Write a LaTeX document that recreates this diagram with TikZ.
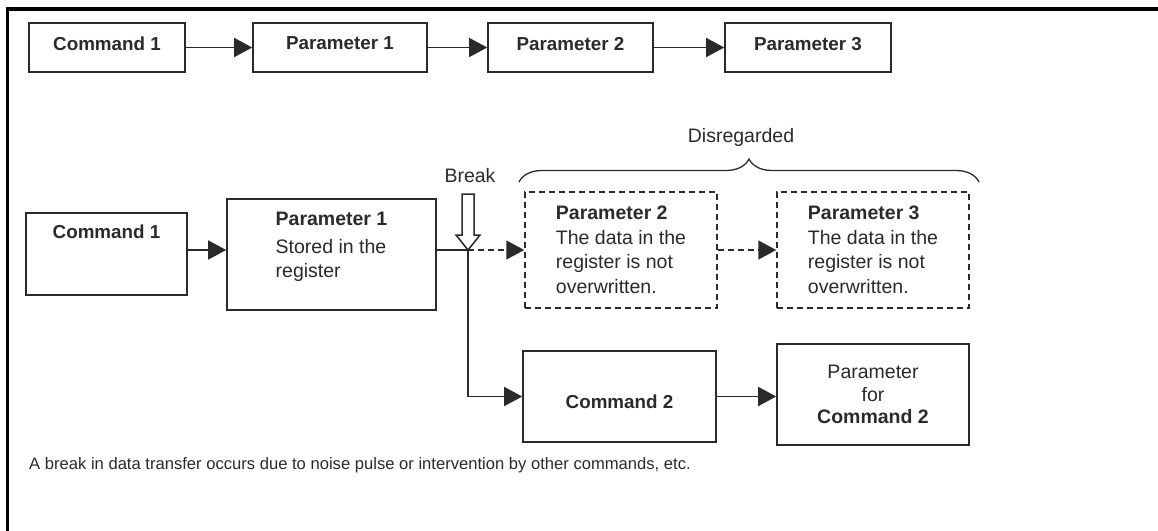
\documentclass[tikz,border=0pt]{standalone}
\usepackage{fontspec}
\setmainfont{Liberation Sans}
\usetikzlibrary{arrows.meta}
\usetikzlibrary{decorations.pathreplacing}
\usetikzlibrary{positioning}
\definecolor{ink}{HTML}{2A2A2A}
\tikzset{cmdbox/.style={draw=ink, line width=1.6pt, inner sep=0pt}}
\tikzset{skipbox/.style={draw=ink, line width=1.5pt, dash pattern=on 6pt off 4pt, inner sep=0pt}}
\tikzset{boxtext/.style={inner sep=0pt, text=ink, font=\fontsize{19.5}{24.5}\selectfont}}
\tikzset{boldtext/.style={boxtext, font=\fontsize{18.8}{24.5}\selectfont\bfseries}}
\tikzset{flow/.style={draw=ink, line width=1.5pt, -{Triangle[length=18pt,width=19pt]}}}
\tikzset{skipflow/.style={flow, dash pattern=on 6pt off 4pt}}
\begin{document}
\begin{tikzpicture}[x=1pt, y=-1pt]
\useasboundingbox (0,0) rectangle (1158,530);

% frame
\draw[line width=3.5pt] (7.5,540) -- (7.5,9) -- (1170,9);

% normal transfer
\node[cmdbox, boldtext, minimum width=156pt, minimum height=49pt, text depth=8pt] (cmd1) at (107,47.5) {Command 1};
\node[cmdbox, boldtext, minimum width=174pt, minimum height=49pt, text depth=8pt] (par1) at (340,47.5) {Parameter 1};
\node[cmdbox, boldtext, minimum width=165pt, minimum height=49pt, text depth=8pt] (par2) at (570.5,47.5) {Parameter 2};
\node[cmdbox, boldtext, minimum width=166pt, minimum height=49pt, text depth=8pt] (par3) at (808,47.5) {Parameter 3};

\draw[flow] (cmd1.east) -- (par1.west);
\draw[flow] (par1.east) -- (par2.west);
\draw[flow] (par2.east) -- (par3.west);

% broken transfer
\coordinate (brk) at (468,250);

\node[cmdbox, minimum width=161pt, minimum height=82pt] (cmd1b) at (106.5,254) {};
\node[boldtext, below=12pt of cmd1b.north] (cmd1txt) {Command 1};

\node[cmdbox, minimum width=209pt, minimum height=111pt] (par1b) at (331.5,254.5) {};
\node[boxtext, align=left, below=14pt of par1b.north] (par1txt) {\textbf{Parameter 1}\\[3pt]Stored in the\\register};

\node[skipbox, boxtext, align=left, minimum width=192pt, minimum height=116pt] (par2b) at (621,250) {\textbf{Parameter 2}\\The data in the\\register is not\\overwritten.};
\node[skipbox, boxtext, align=left, minimum width=192pt, minimum height=116pt] (par3b) at (873,250) {\textbf{Parameter 3}\\The data in the\\register is not\\overwritten.};

\node[cmdbox, boldtext, minimum width=193pt, minimum height=91pt, text height=24pt] (cmd2) at (619.5,396.5) {Command 2};
\node[cmdbox, boxtext, align=center, font=\fontsize{19.5}{22.5}\selectfont, minimum width=192pt, minimum height=101pt] (parc2) at (873,394.5) {Parameter\\for\\\textbf{Command 2}};

\draw[flow] (cmd1b.east |- brk) -- (par1b.west |- brk);
\draw[draw=ink, line width=1.5pt] (par1b.east |- brk) -- (brk);
\draw[skipflow] (brk) -- (par2b.west |- brk);
\draw[skipflow] (par2b.east) -- (par3b.west);
\draw[flow] (brk) |- (cmd2.west);
\draw[flow] (cmd2.east) -- (cmd2.east -| parc2.west);

% break marker
\draw[draw=ink, line width=1.5pt, fill=white] (brk) -- ++(-12,-15) -- ++(6,0) -- ++(0,-41) -- ++(12,0) -- ++(0,41) -- ++(6,0) -- cycle;
\node[boxtext] (brktxt) at (470,176) {Break};

\draw[draw=ink, line width=1.3pt, decorate, decoration={brace, amplitude=23pt}] (519,182) -- (979,182);
\node[boxtext] (skiptxt) at (741,137) {Disregarded};

\node[boxtext, font=\fontsize{16.6}{20}\selectfont, anchor=base west] (note) at (29,469) {A break in data transfer occurs due to noise pulse or intervention by other commands, etc.};

\end{tikzpicture}
\end{document}
